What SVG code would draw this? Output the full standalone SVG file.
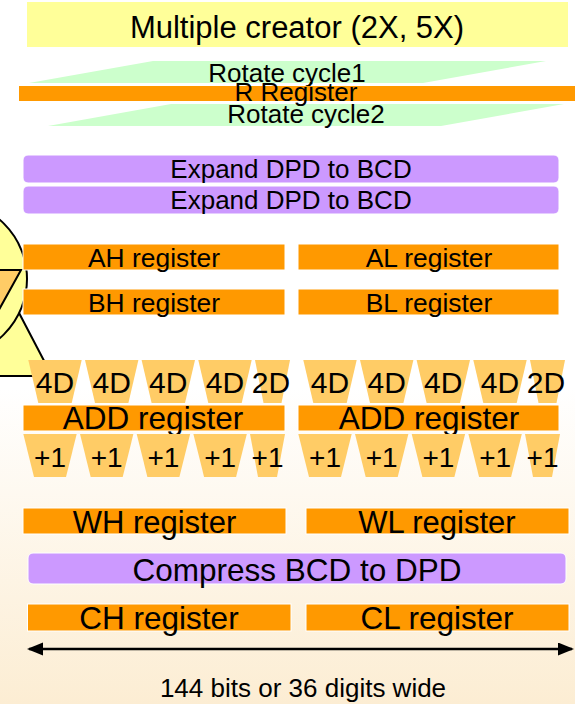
<svg xmlns="http://www.w3.org/2000/svg" width="575" height="704" viewBox="0 0 575 704">
  <defs>
    <linearGradient id="bg" x1="0" y1="0" x2="0" y2="1">
      <stop offset="0" stop-color="#FFFFFF"/>
      <stop offset="0.55" stop-color="#FFFFFF"/>
      <stop offset="1" stop-color="#FCEDD3"/>
    </linearGradient>
    <marker id="head" markerUnits="userSpaceOnUse" markerWidth="16" markerHeight="14" refX="14" refY="6.5" orient="auto-start-reverse">
      <path d="M0,0 L16,6.5 L0,13 Z" fill="#000"/>
    </marker>
  </defs>
  <style>
    .t { font-family: "Liberation Sans", Arial, sans-serif; fill: #000; text-anchor: middle; }
    .org { fill: #FF9900; stroke: #FFFFFF; stroke-width: 1; }
    .pur { fill: #CC99FF; stroke: #FFFFFF; stroke-width: 1; }
    .grn { fill: #CCFFCC; }
    .trap { fill: #FFCC66; }
    .deco { fill: #FFFF99; stroke: #000; stroke-width: 2; }
  </style>

  <rect x="0" y="0" width="575" height="704" fill="url(#bg)"/>

  <!-- decorative shapes at the left edge -->
  <g id="emblem">
    <polygon class="deco" points="-40,200 52,376 -132,376"/>
    <circle class="deco" cx="-51" cy="279" r="78"/>
    <polygon points="21,270 -45,270 -30,362" fill="#FFCC66" stroke="#000" stroke-width="2"/>
  </g>

  <g id="multiple-creator">
    <rect x="27" y="2" width="541" height="45" fill="#FFFF99"/>
    <text class="t" x="297" y="38" font-size="31">Multiple creator (2X, 5X)</text>
  </g>

  <g id="rotate-cycle1">
    <polygon class="grn" points="153,61 546,61 423,83 29,83"/>
    <text class="t" x="287" y="82" font-size="26">Rotate cycle1</text>
  </g>
  <g id="rotate-cycle2">
    <polygon class="grn" points="171,104 564,104 441,126 48,126"/>
    <text class="t" x="306" y="123" font-size="26">Rotate cycle2</text>
  </g>
  <g id="r-register">
    <rect x="19" y="86" width="560" height="15" fill="#FF9900"/>
    <text class="t" x="296" y="101" font-size="26">R Register</text>
  </g>

  <g id="expand1">
    <rect class="pur" x="23" y="155" width="536" height="28" rx="5"/>
    <text class="t" x="291" y="178" font-size="26">Expand DPD to BCD</text>
  </g>
  <g id="expand2">
    <rect class="pur" x="23" y="186" width="536" height="28" rx="5"/>
    <text class="t" x="291" y="209" font-size="26">Expand DPD to BCD</text>
  </g>

  <g id="ah-register">
    <rect class="org" x="23" y="244" width="262" height="26"/>
    <text class="t" x="154" y="267" font-size="26.4">AH register</text>
  </g>
  <g id="al-register">
    <rect class="org" x="298" y="244" width="261" height="26"/>
    <text class="t" x="429" y="267" font-size="26.4">AL register</text>
  </g>
  <g id="bh-register">
    <rect class="org" x="23" y="289" width="262" height="26"/>
    <text class="t" x="154" y="312" font-size="26.4">BH register</text>
  </g>
  <g id="bl-register">
    <rect class="org" x="298" y="289" width="261" height="26"/>
    <text class="t" x="429" y="312" font-size="26.4">BL register</text>
  </g>

  <!-- digit adders feeding the ADD registers -->
  <g id="adders-high">
    <polygon class="trap" points="28.3,360 81.7,360 71.7,403 38.3,403"/>
    <polygon class="trap" points="85,360 138.4,360 128.4,403 95,403"/>
    <polygon class="trap" points="141.6,360 195,360 185,403 151.6,403"/>
    <polygon class="trap" points="198.3,360 251.7,360 241.7,403 208.3,403"/>
    <polygon class="trap" points="255,360 290,360 281.5,403 263.5,403"/>
    <text class="t" x="55" y="393" font-size="30">4D</text>
    <text class="t" x="111.7" y="393" font-size="30">4D</text>
    <text class="t" x="168.3" y="393" font-size="30">4D</text>
    <text class="t" x="225" y="393" font-size="30">4D</text>
    <text class="t" x="271" y="393" font-size="30">2D</text>
  </g>
  <g id="adders-low">
    <polygon class="trap" points="303.3,360 356.7,360 346.7,403 313.3,403"/>
    <polygon class="trap" points="360,360 413.4,360 403.4,403 370,403"/>
    <polygon class="trap" points="416.6,360 470,360 460,403 426.6,403"/>
    <polygon class="trap" points="473.3,360 526.7,360 516.7,403 483.3,403"/>
    <polygon class="trap" points="530,360 565,360 556.5,403 538.5,403"/>
    <text class="t" x="330" y="393" font-size="30">4D</text>
    <text class="t" x="386.7" y="393" font-size="30">4D</text>
    <text class="t" x="443.3" y="393" font-size="30">4D</text>
    <text class="t" x="500" y="393" font-size="30">4D</text>
    <text class="t" x="546" y="393" font-size="30">2D</text>
  </g>

  <g id="add-high">
    <rect class="org" x="23" y="405" width="262" height="26"/>
    <text class="t" x="153" y="429" font-size="31.5">ADD register</text>
  </g>
  <g id="add-low">
    <rect class="org" x="298" y="405" width="261" height="26"/>
    <text class="t" x="429" y="429" font-size="31.5">ADD register</text>
  </g>

  <!-- increment stages -->
  <g id="inc-high">
    <polygon class="trap" points="23.3,434 76.7,434 66,477 34,477"/>
    <polygon class="trap" points="80,434 133.4,434 122.7,477 90.7,477"/>
    <polygon class="trap" points="136.7,434 190.1,434 179.4,477 147.4,477"/>
    <polygon class="trap" points="193.4,434 246.8,434 236.1,477 204.1,477"/>
    <polygon class="trap" points="250,434 285,434 277,477 258,477"/>
    <text class="t" x="50" y="467" font-size="28">+1</text>
    <text class="t" x="106.7" y="467" font-size="28">+1</text>
    <text class="t" x="163.4" y="467" font-size="28">+1</text>
    <text class="t" x="220.1" y="467" font-size="28">+1</text>
    <text class="t" x="267.5" y="467" font-size="28">+1</text>
  </g>
  <g id="inc-low">
    <polygon class="trap" points="298.3,434 351.7,434 341,477 309,477"/>
    <polygon class="trap" points="355,434 408.4,434 397.7,477 365.7,477"/>
    <polygon class="trap" points="411.7,434 465.1,434 454.4,477 422.4,477"/>
    <polygon class="trap" points="468.4,434 521.8,434 511.1,477 479.1,477"/>
    <polygon class="trap" points="525,434 560,434 552,477 533,477"/>
    <text class="t" x="325" y="467" font-size="28">+1</text>
    <text class="t" x="381.7" y="467" font-size="28">+1</text>
    <text class="t" x="438.4" y="467" font-size="28">+1</text>
    <text class="t" x="495.1" y="467" font-size="28">+1</text>
    <text class="t" x="542.5" y="467" font-size="28">+1</text>
  </g>

  <g id="wh-register">
    <rect class="org" x="23" y="508" width="263" height="26"/>
    <text class="t" x="154.5" y="533" font-size="31">WH register</text>
  </g>
  <g id="wl-register">
    <rect class="org" x="306" y="508" width="263" height="26"/>
    <text class="t" x="437" y="533" font-size="31">WL register</text>
  </g>

  <g id="compress">
    <rect class="pur" x="28" y="553" width="538" height="31" rx="5"/>
    <text class="t" x="297" y="581" font-size="31.5">Compress BCD to DPD</text>
  </g>

  <g id="ch-register">
    <rect class="org" x="27.5" y="604" width="263.5" height="27"/>
    <text class="t" x="159" y="629" font-size="31.5">CH register</text>
  </g>
  <g id="cl-register">
    <rect class="org" x="306" y="604" width="263" height="27"/>
    <text class="t" x="437" y="629" font-size="31.5">CL register</text>
  </g>

  <g id="connectors">
    <line x1="29" y1="649" x2="572" y2="649" stroke="#000" stroke-width="2.5" marker-start="url(#head)" marker-end="url(#head)"/>
  </g>

  <g id="width-label">
    <text class="t" x="303" y="697" font-size="26">144 bits or 36 digits wide</text>
  </g>
</svg>
